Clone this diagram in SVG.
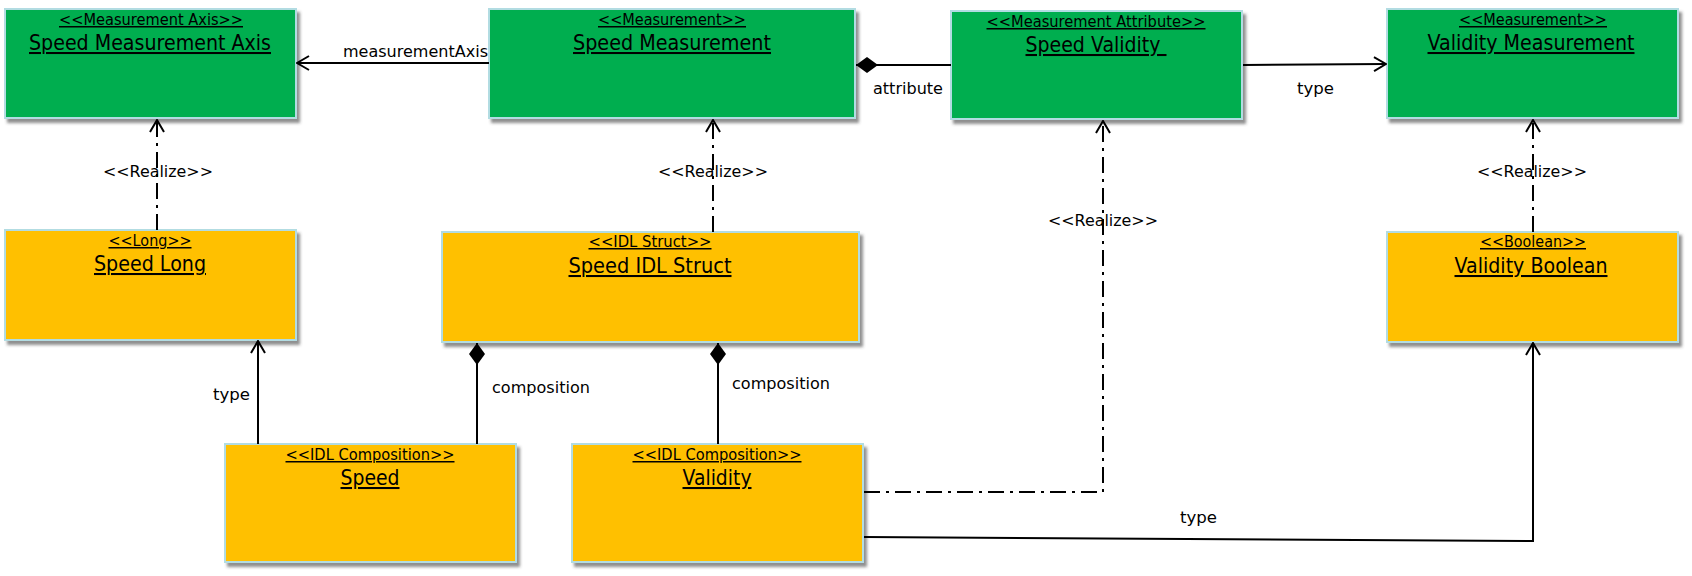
<svg xmlns="http://www.w3.org/2000/svg" width="1692" height="576" viewBox="0 0 1692 576">
<style>
.g{fill:#00AE50;stroke:#B2DCE2;stroke-width:2}
.o{fill:#FFC000;stroke:#B2DCE2;stroke-width:2}
.st{font-family:"DejaVu Sans",Verdana,sans-serif;font-size:15px;fill:#000;text-anchor:middle;text-decoration:underline}
.tt{font-family:"DejaVu Sans",Verdana,sans-serif;font-size:20.5px;fill:#000;text-anchor:middle;text-decoration:underline}
.lb{font-family:"DejaVu Sans",Verdana,sans-serif;font-size:16.5px;fill:#000}
.ln{fill:none;stroke:#000;stroke-width:2}
.dd{fill:none;stroke:#000;stroke-width:2;stroke-dasharray:16 6 3 6}
</style>
<defs>
<filter id="sh" x="-5%" y="-5%" width="115%" height="120%">
<feDropShadow dx="3" dy="4" stdDeviation="1.5" flood-color="#444" flood-opacity="0.6"/>
</filter>
<marker id="arr" viewBox="0 0 14 16" refX="13" refY="8" markerWidth="14" markerHeight="16" markerUnits="userSpaceOnUse" orient="auto">
<path d="M1,1 L13,8 L1,15" fill="none" stroke="#000" stroke-width="2"/>
</marker>
<marker id="dia" viewBox="0 0 22 16" refX="22" refY="8" markerWidth="22" markerHeight="16" markerUnits="userSpaceOnUse" orient="auto-start-reverse">
<path d="M0,8 L11,0 L22,8 L11,16 Z" fill="#000"/>
</marker>
</defs>
<rect width="1692" height="576" fill="#fff"/>
<g id="speed-measurement-axis">
<rect class="g" x="5" y="9" width="291" height="109" filter="url(#sh)"/>
<text class="st" x="151" y="25" textLength="184" lengthAdjust="spacingAndGlyphs">&lt;&lt;Measurement Axis&gt;&gt;</text>
<text class="tt" x="150" y="50" textLength="242" lengthAdjust="spacingAndGlyphs">Speed Measurement Axis</text>
</g>
<g id="speed-measurement">
<rect class="g" x="489" y="9" width="366" height="109" filter="url(#sh)"/>
<text class="st" x="672" y="25" textLength="148" lengthAdjust="spacingAndGlyphs">&lt;&lt;Measurement&gt;&gt;</text>
<text class="tt" x="672" y="50" textLength="198" lengthAdjust="spacingAndGlyphs">Speed Measurement</text>
</g>
<g id="speed-validity">
<rect class="g" x="951" y="11" width="291" height="108" filter="url(#sh)"/>
<text class="st" x="1096" y="27" textLength="219" lengthAdjust="spacingAndGlyphs">&lt;&lt;Measurement Attribute&gt;&gt;</text>
<text class="tt" x="1096" y="52" textLength="141" lengthAdjust="spacingAndGlyphs" xml:space="preserve">Speed Validity </text>
</g>
<g id="validity-measurement">
<rect class="g" x="1387" y="9" width="291" height="109" filter="url(#sh)"/>
<text class="st" x="1533" y="25" textLength="148" lengthAdjust="spacingAndGlyphs">&lt;&lt;Measurement&gt;&gt;</text>
<text class="tt" x="1531" y="50" textLength="207" lengthAdjust="spacingAndGlyphs">Validity Measurement</text>
</g>
<g id="speed-long">
<rect class="o" x="5" y="230" width="291" height="110" filter="url(#sh)"/>
<text class="st" x="150" y="246" textLength="83" lengthAdjust="spacingAndGlyphs">&lt;&lt;Long&gt;&gt;</text>
<text class="tt" x="150" y="271" textLength="112" lengthAdjust="spacingAndGlyphs">Speed Long</text>
</g>
<g id="speed-idl-struct">
<rect class="o" x="442" y="232" width="417" height="110" filter="url(#sh)"/>
<text class="st" x="650" y="247" textLength="123" lengthAdjust="spacingAndGlyphs">&lt;&lt;IDL Struct&gt;&gt;</text>
<text class="tt" x="650" y="273" textLength="163" lengthAdjust="spacingAndGlyphs">Speed IDL Struct</text>
</g>
<g id="validity-boolean">
<rect class="o" x="1387" y="232" width="291" height="110" filter="url(#sh)"/>
<text class="st" x="1533" y="247" textLength="106" lengthAdjust="spacingAndGlyphs">&lt;&lt;Boolean&gt;&gt;</text>
<text class="tt" x="1531" y="273" textLength="153" lengthAdjust="spacingAndGlyphs">Validity Boolean</text>
</g>
<g id="speed">
<rect class="o" x="225" y="444" width="291" height="118" filter="url(#sh)"/>
<text class="st" x="370" y="460" textLength="169" lengthAdjust="spacingAndGlyphs">&lt;&lt;IDL Composition&gt;&gt;</text>
<text class="tt" x="370" y="485" textLength="59" lengthAdjust="spacingAndGlyphs">Speed</text>
</g>
<g id="validity">
<rect class="o" x="572" y="444" width="291" height="118" filter="url(#sh)"/>
<text class="st" x="717" y="460" textLength="169" lengthAdjust="spacingAndGlyphs">&lt;&lt;IDL Composition&gt;&gt;</text>
<text class="tt" x="717" y="485" textLength="69" lengthAdjust="spacingAndGlyphs">Validity</text>
</g>
<g id="connectors">
<path class="ln" d="M489,63 L297,63" marker-end="url(#arr)"/>
<text class="lb" x="343" y="57" textLength="145" lengthAdjust="spacingAndGlyphs">measurementAxis</text>
<path class="ln" d="M856,65 L951,65" marker-start="url(#dia)"/>
<text class="lb" x="873" y="94" textLength="70" lengthAdjust="spacingAndGlyphs">attribute</text>
<path class="ln" d="M1243,65 L1386,64" marker-end="url(#arr)"/>
<text class="lb" x="1297" y="94" textLength="37" lengthAdjust="spacingAndGlyphs">type</text>
<path class="dd" d="M157,230 L157,120" marker-end="url(#arr)"/>
<text class="lb" x="103" y="177" textLength="110" lengthAdjust="spacingAndGlyphs">&lt;&lt;Realize&gt;&gt;</text>
<path class="dd" d="M713,232 L713,120" marker-end="url(#arr)"/>
<text class="lb" x="658" y="177" textLength="110" lengthAdjust="spacingAndGlyphs">&lt;&lt;Realize&gt;&gt;</text>
<path class="dd" d="M1533,232 L1533,120" marker-end="url(#arr)"/>
<text class="lb" x="1477" y="177" textLength="110" lengthAdjust="spacingAndGlyphs">&lt;&lt;Realize&gt;&gt;</text>
<path class="dd" d="M864,492 L1103,492 L1103,121" marker-end="url(#arr)"/>
<text class="lb" x="1048" y="226" textLength="110" lengthAdjust="spacingAndGlyphs">&lt;&lt;Realize&gt;&gt;</text>
<path class="ln" d="M258,444 L258,341" marker-end="url(#arr)"/>
<text class="lb" x="213" y="400" textLength="37" lengthAdjust="spacingAndGlyphs">type</text>
<path class="ln" d="M477,343 L477,444" marker-start="url(#dia)"/>
<text class="lb" x="492" y="393" textLength="98" lengthAdjust="spacingAndGlyphs">composition</text>
<path class="ln" d="M718,343 L718,444" marker-start="url(#dia)"/>
<text class="lb" x="732" y="389" textLength="98" lengthAdjust="spacingAndGlyphs">composition</text>
<path class="ln" d="M864,537 L1533,541 L1533,343" marker-end="url(#arr)"/>
<text class="lb" x="1180" y="523" textLength="37" lengthAdjust="spacingAndGlyphs">type</text>
</g>
</svg>
